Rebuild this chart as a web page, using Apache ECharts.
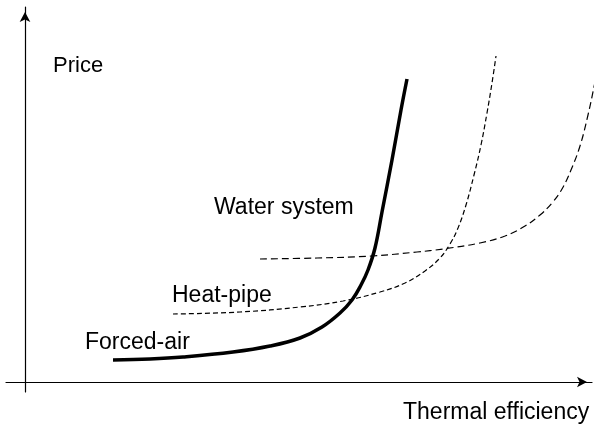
<!DOCTYPE html>
<html>
<head>
<meta charset="utf-8">
<script src="https://cdn.jsdelivr.net/npm/echarts@6/dist/echarts.min.js"></script>
<style>
html,body{margin:0;padding:0;background:#fff;}
#c{width:606px;height:428px;}
</style>
</head>
<body>
<div id="c"></div>
<script>
// Qualitative curves: x = thermal efficiency, y = price (arbitrary units)
const forcedAirX = [88,125,158,208,245,275,297,315,327,336,343,350,357,367,376,382];
const forcedAirY = [22,23,25,30,36,44,55,69,82,97,112,134,170,222,272,303];
const heatPipeX = [148,215,275,318,355,380,400,415,425,433,441,449,456,462,467,471];
const heatPipeY = [68,70,75,81,90,99,111,124,138,154,177,207,237,269,299,326];
const waterX = [235,292,347,392,418,455,480,500,515,527,537,546,555,563,570,575,580];
const waterY = [123,124,126,130,133,139,146,156,167,179,193,212,236,267,300,325,340];
const seriesNames = ['Forced-air','Heat-pipe','Water system'];
const axisNames = ['Thermal efficiency','Price'];

function pairs(xs, ys){ return xs.map((x,i)=>[x, ys[i]]); }

const chart = echarts.init(document.getElementById('c'), null, {renderer:'canvas'});
const FONT = '"Liberation Sans", Arial, sans-serif';
function axisCommon(){
  return {
    type:'value',
    axisLine:{show:true,onZero:true,symbol:['none','arrow'],symbolSize:[8,10],symbolOffset:[0,-5],
      lineStyle:{color:'#000',width:1.2}},
    axisTick:{show:false},axisLabel:{show:false},splitLine:{show:false}
  };
}
chart.setOption({
  animation:false,
  backgroundColor:'#fff',
  grid:{left:6,right:14,top:7,bottom:36,containLabel:false},
  xAxis:Object.assign(axisCommon(),{min:-19,max:567}),
  yAxis:Object.assign(axisCommon(),{min:-10,max:375}),
  series:[
    {name:seriesNames[0],type:'line',data:pairs(forcedAirX,forcedAirY),smooth:0.4,showSymbol:false,clip:false,
      lineStyle:{color:'#000',width:3.5}},
    {name:seriesNames[1],type:'line',data:pairs(heatPipeX,heatPipeY),smooth:0.4,showSymbol:false,clip:false,
      lineStyle:{color:'#000',width:1.2,type:[5,3]}},
    {name:seriesNames[2],type:'line',data:pairs(waterX,waterY),smooth:0.4,showSymbol:false,clip:false,
      lineStyle:{color:'#000',width:1.2,type:[7,4]}}
  ],
  graphic:[
    {type:'text',left:53,top:55,style:{text:axisNames[1],font:'22px '+FONT,fill:'#000'}},
    {type:'text',left:214,top:196,style:{text:seriesNames[2],font:'23px '+FONT,fill:'#000'}},
    {type:'text',left:172,top:284,style:{text:seriesNames[1],font:'23px '+FONT,fill:'#000'}},
    {type:'text',left:85,top:331,style:{text:seriesNames[0],font:'23px '+FONT,fill:'#000'}},
    {type:'text',left:403,top:401,style:{text:axisNames[0],font:'23px '+FONT,fill:'#000'}}
  ]
});
</script>
</body>
</html>
